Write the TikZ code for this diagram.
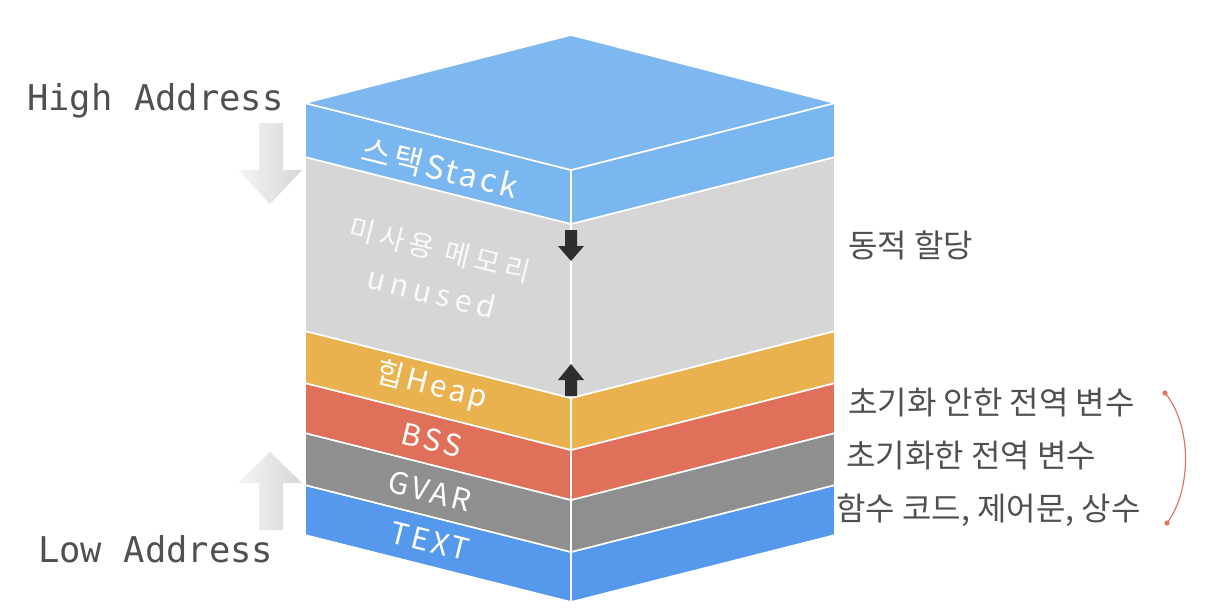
\documentclass[tikz,border=0pt]{standalone}
\usepackage{fontspec}
\newfontfamily\kr{Noto Sans CJK KR}
\newfontfamily\krsp[LetterSpace=10]{Noto Sans CJK KR}
\newfontfamily\krwide[LetterSpace=18]{Noto Sans CJK KR}
\newfontfamily\monof{DejaVu Sans Mono}
\definecolor{topblue}{HTML}{7DB8F1}
\definecolor{stackblue}{HTML}{7AB6F0}
\definecolor{unusedgray}{HTML}{D6D6D6}
\definecolor{heapor}{HTML}{E9B24F}
\definecolor{bssred}{HTML}{E0705A}
\definecolor{gvargray}{HTML}{8F8F8F}
\definecolor{textblue}{HTML}{5599EC}
\definecolor{labelgray}{HTML}{505050}
\definecolor{brk}{HTML}{E07765}
\definecolor{darkarrow}{HTML}{2E2E2E}
\newcommand\mylayer[3]{%
  \filldraw[face,fill=#1] (305,#2) -- (571,#2+67) -- (571,#3+67) -- (305,#3) -- cycle;
  \filldraw[face,fill=#1] (571,#2+67) -- (835,#2) -- (835,#3) -- (571,#3+67) -- cycle;}
\tikzset{
  face/.style={draw=white,line width=1.6pt,line join=round},
  cubelabel/.style={text=white,rotate=-14,inner sep=0pt,font=\kr\fontsize{30}{34}\selectfont},
  sidelabel/.style={text=labelgray,anchor=west,inner sep=0pt,font=\kr\fontsize{32}{36}\selectfont},
  addr/.style={text=labelgray,anchor=base west,inner sep=0pt,font=\monof\fontsize{35.5}{40}\selectfont},
  bigarrow/.style={left color=gray!8,right color=gray!32,draw=none},
  smallarrow/.style={fill=darkarrow,draw=none},
}
\begin{document}
\begin{tikzpicture}[x=1pt,y=-1pt]
\useasboundingbox (0,0) rectangle (1208,608);
% layers
\mylayer{textblue}{485}{535}
\mylayer{gvargray}{433}{485}
\mylayer{bssred}{383}{433}
\mylayer{heapor}{331}{383}
\mylayer{unusedgray}{157}{331}
\mylayer{stackblue}{103}{157}
% top face
\filldraw[face,fill=topblue] (305,103) -- (571,35) -- (835,103) -- (571,170) -- cycle;
% cube labels
\node[cubelabel,font=\krsp\fontsize{32}{36}\selectfont] (stack) at (440,168) {스택Stack};
\node[cubelabel,text=white!95!gray,font=\krwide\fontsize{28}{32}\selectfont] (unused1) at (440,250) {미사용 메모리};
\node[cubelabel,text=white!95!gray,font=\krwide\fontsize{30}{34}\selectfont] (unused2) at (432,292) {unused};
\node[cubelabel,font=\krsp\fontsize{30}{34}\selectfont] (heap) at (432,386) {힙Heap};
\node[cubelabel,font=\krsp\fontsize{30}{34}\selectfont] (bss) at (432,440) {BSS};
\node[cubelabel,font=\krsp\fontsize{30}{34}\selectfont] (gvar) at (430,491) {GVAR};
\node[cubelabel,font=\krsp\fontsize{30}{34}\selectfont] (text) at (430,541) {TEXT};
% small dark arrows
\fill[smallarrow] (565,230) -- (577,230) -- (577,246) -- (584,246) -- (571,261) -- (558,246) -- (565,246) -- cycle;
\fill[smallarrow] (565,396) -- (577,396) -- (577,380) -- (584,380) -- (571,364) -- (558,380) -- (565,380) -- cycle;
% big gray arrows
\shade[bigarrow] (259,123) -- (283,123) -- (283,170) -- (302,170) -- (270,204) -- (238,170) -- (259,170) -- cycle;
\shade[bigarrow] (259,530) -- (283,530) -- (283,483) -- (302,483) -- (270,452) -- (238,483) -- (259,483) -- cycle;
% address labels
\node[addr] (high) at (27,110) {High Address};
\node[addr] (low) at (38,562) {Low Address};
% side labels
\node[sidelabel] (dyn) at (848,245) {동적 할당};
\node[sidelabel] (uninit) at (848,403) {초기화 안한 전역 변수};
\node[sidelabel] (init) at (846,456) {초기화한 전역 변수};
\node[sidelabel] (code) at (836,510) {함수 코드, 제어문, 상수};
% bracket
\coordinate (b1) at (1165,393);
\coordinate (b2) at (1167,523);
\draw[brk,line width=1.2pt] (b1) .. controls (1192,425) and (1192,490) .. (b2);
\fill[brk] (b1) circle (2.6);
\fill[brk] (b2) circle (2.6);
\end{tikzpicture}
\end{document}
